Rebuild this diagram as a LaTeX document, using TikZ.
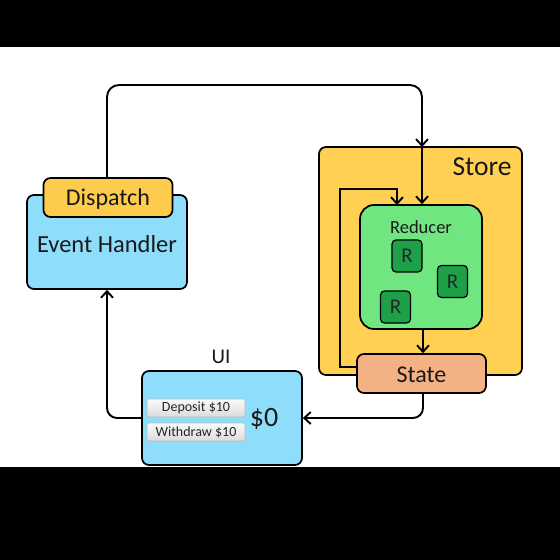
\documentclass[tikz,border=0pt]{standalone}
\usepackage{fontspec}
\setmainfont{Carlito}
\usetikzlibrary{arrows.meta}
\definecolor{lblue}{RGB}{142,221,250}
\definecolor{syellow}{RGB}{255,208,82}
\definecolor{dyellow}{RGB}{254,204,76}
\definecolor{rgreen}{RGB}{112,230,128}
\definecolor{dgreen}{RGB}{30,160,72}
\definecolor{salmon}{RGB}{244,177,131}
\tikzset{
  box/.style={draw=black, line width=1.7pt, rounded corners=7pt, inner sep=0pt},
  arr/.style={line width=1.9pt, -{Straight Barb[length=6.5pt,width=12pt,line width=1.9pt]}},
  btn/.style={draw=gray!55, line width=0.6pt, rounded corners=2pt, top color=gray!4, bottom color=gray!28, minimum width=98pt, minimum height=18pt, inner sep=0pt, font=\fontsize{14}{15}\selectfont, text=black!85},
  rbox/.style={box, line width=1.2pt, rounded corners=4pt, fill=dgreen, minimum width=30pt, minimum height=32pt, font=\fontsize{21}{22}\selectfont, text=black!85}
}
\begin{document}
\begin{tikzpicture}[x=1pt,y=-1pt]
\useasboundingbox (0,0) rectangle (560,560);
\fill[black] (0,0) rectangle (560,560);
\fill[white] (0,47) rectangle (560,467);
% Event handler + dispatch
\node[box, fill=lblue, minimum width=160pt, minimum height=94pt] (eh) at (107,242) {};
\node[font=\fontsize{24.5}{26}\selectfont, text=black!90] (ehl) at (107,244) {Event Handler};
\node[box, fill=dyellow, minimum width=129pt, minimum height=39pt] (disp) at (108,197.5) {};
\node[font=\fontsize{24}{26}\selectfont, text=black!90] (displ) at (108,199.5) {Dispatch};
% Store
\node[box, fill=syellow, minimum width=203pt, minimum height=228pt] (store) at (420.5,261) {};
\node[font=\fontsize{27.5}{28}\selectfont, text=black!90] (storel) at (482,167) {Store};
\node[box, fill=rgreen, rounded corners=14pt, minimum width=122pt, minimum height=124pt] (red) at (421,267) {};
\node[font=\fontsize{18.5}{20}\selectfont, text=black!90] (redl) at (421,227) {Reducer};
\node[rbox] (r1) at (407,256) {R};
\node[rbox] (r2) at (452.5,281.5) {R};
\node[rbox] (r3) at (395.5,307) {R};
% loop
\coordinate (lp0) at (357,367);
\draw[arr] (lp0) -- (340,367) |- (397,189) -- (397,205);
\node[box, fill=salmon, minimum width=129pt, minimum height=39pt] (state) at (421.5,373.5) {};
\node[font=\fontsize{24}{26}\selectfont, text=black!90] (statel) at (421.5,375) {State};
% UI
\node[font=\fontsize{21}{22}\selectfont, text=black!90] (uil) at (221,357) {UI};
\node[box, fill=lblue, minimum width=160pt, minimum height=94pt] (ui) at (222,418) {};
\node[btn] (dep) at (196,408) {Deposit \$10};
\node[btn] (wd) at (196,432) {Withdraw \$10};
\node[font=\fontsize{28}{30}\selectfont, text=black!90] (bal) at (264,419) {\$0};
% connectors
\coordinate (storein) at (422,147);
\draw[arr, rounded corners=12pt] (disp.north -| 107,0) |- (422,85) -- (storein);
\draw[arr] (storein) -- (red.north -| storein);
\draw[arr] (red.south -| 423,0) -- (state.north -| 423,0);
\draw[arr, rounded corners=10pt] (state.south -| 423,0) |- (ui.east);
\draw[arr, rounded corners=10pt] (ui.west) -| (eh.south);
\end{tikzpicture}
\end{document}
